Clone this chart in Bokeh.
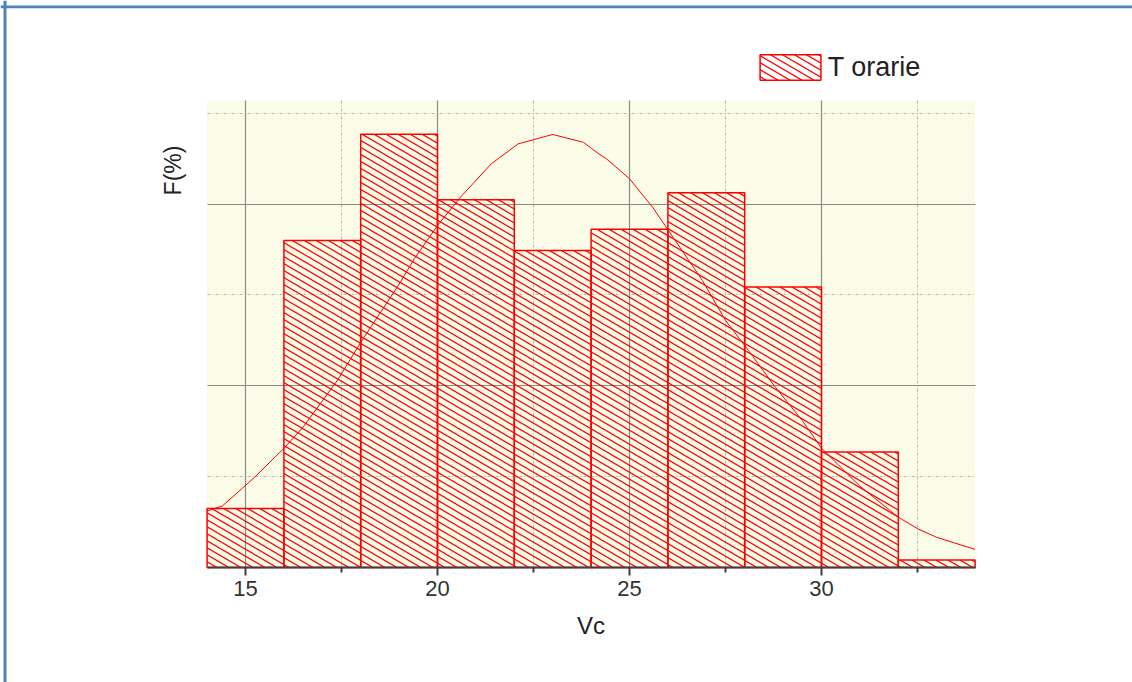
import base64
from math import pi
from bokeh.plotting import figure
from bokeh.models import (Range1d, FixedTicker, Legend, LegendItem, Label, Span,
                          BoxAnnotation, ColumnDataSource, ImageURLTexture)
from bokeh.core.properties import value
from bokeh.embed import file_html
from bokeh.resources import INLINE

# ---- data ----
bin_left = [14, 16, 18, 20, 22, 24, 26, 28, 30, 32]
bin_right = [16, 18, 20, 22, 24, 26, 28, 30, 32, 34]
freq_pct = [2.25, 12.47, 16.52, 14.02, 12.09, 12.90, 14.29, 10.69, 4.40, 0.29]

curve_x = [14.0, 14.4, 15.2, 16.0, 16.5, 17.4, 18.0, 19.0, 19.4, 20.0, 20.6, 21.4,
           22.1, 23.0, 23.8, 24.2, 24.4, 25.0, 25.6, 26.0, 26.9, 27.5, 28.1, 28.8,
           29.5, 30.0, 31.0, 32.0, 32.5, 33.0, 34.0]
curve_y = [2.15, 2.35, 3.39, 4.54, 5.35, 7.15, 8.58, 10.80, 11.78, 13.04, 14.12, 15.39,
           16.15, 16.51, 16.21, 15.77, 15.58, 14.82, 13.74, 12.88, 10.94, 9.42, 8.27, 6.87,
           5.60, 4.55, 3.10, 1.92, 1.48, 1.15, 0.69]

x_major = [15, 20, 25, 30]
x_minor = [17.5, 22.5, 27.5, 32.5]
y_major = [6.92, 13.85]
y_minor = [3.46, 10.39, 17.31]

series_name = "T orarie"
x_label = "Vc"
y_label = "F(%)"

# plotting area (axes box) limits
X_MIN, X_MAX = 14, 34
Y_MIN, Y_MAX = 0, 17.8

FONT = "Liberation Sans"
RED = "#ff0000"
BLUE = "#4f81bd"

W, H = 1132, 682
PX_X = 38.4       # pixels per x unit
PX_Y = 26.23      # pixels per y unit
LEFT_PX = 206.6   # canvas x of X_MIN
BASE_PX = 567     # canvas y of Y_MIN

x_start = X_MIN - LEFT_PX / PX_X
x_end = X_MIN + (W - LEFT_PX) / PX_X
y_start = -(H - BASE_PX) / PX_Y
y_end = BASE_PX / PX_Y

p = figure(width=W, height=H, x_range=Range1d(x_start, x_end),
           y_range=Range1d(y_start, y_end),
           output_backend="svg", toolbar_location=None,
           min_border_left=0, min_border_right=0, min_border_top=0, min_border_bottom=0,
           background_fill_color="white", border_fill_color="white", outline_line_color=None)

p.yaxis.visible = False

# yellow plot area
p.add_layout(BoxAnnotation(left=X_MIN, right=X_MAX, bottom=Y_MIN, top=Y_MAX,
                           fill_color="#fafce8", fill_alpha=1, line_alpha=0, level="image"))

xt = FixedTicker(ticks=x_major, minor_ticks=x_minor)
p.xaxis.ticker = xt
p.xgrid.ticker = xt
p.ygrid.ticker = FixedTicker(ticks=y_major, minor_ticks=y_minor)
p.xgrid.bounds = (X_MIN, X_MAX)
p.xgrid.cross_bounds = (Y_MIN, Y_MAX)
p.ygrid.bounds = (Y_MIN, Y_MAX)
p.ygrid.cross_bounds = (X_MIN, X_MAX)

for g in (p.xgrid, p.ygrid):
    g.grid_line_color = "#8a8a8a"
    g.grid_line_width = 1.2
    g.minor_grid_line_color = "#b5b5b5"
    g.minor_grid_line_dash = "3 2 1 2"
    g.minor_grid_line_width = 1

ax = p.xaxis[0]
ax.fixed_location = Y_MIN
ax.bounds = (X_MIN, X_MAX)
ax.axis_line_color = "#404040"
ax.axis_line_width = 2
ax.major_tick_line_color = "#404040"
ax.major_tick_line_width = 2
ax.major_tick_out = 8
ax.major_tick_in = 0
ax.minor_tick_line_color = "#404040"
ax.minor_tick_line_width = 2
ax.minor_tick_out = 5
ax.minor_tick_in = 0
ax.major_label_text_font = FONT
ax.major_label_text_font_size = "22px"
ax.major_label_text_color = "#333333"
ax.major_label_standoff = 5

# shallow "\" hatch tile (slope ~0.58)
tile_svg = ("<svg xmlns='http://www.w3.org/2000/svg' width='12' height='7'>"
            "<path d='M-12,-7 L24,14 M-12,0 L12,14 M0,-7 L24,7' stroke='#ff0000' "
            "stroke-width='1.2' fill='none'/></svg>")
tile_url = "data:image/svg+xml;base64," + base64.b64encode(tile_svg.encode()).decode()
hatch_tex = ImageURLTexture(url=tile_url)

src = ColumnDataSource(dict(left=bin_left, right=bin_right, top=freq_pct,
                            bottom=[0] * len(freq_pct)))
bars = p.quad(left="left", right="right", top="top", bottom="bottom", source=src,
              fill_alpha=0, line_color=RED, line_width=1.5,
              hatch_pattern=value("shallow"), hatch_extra={"shallow": hatch_tex},
              hatch_color=RED, hatch_weight=1)

p.line(curve_x, curve_y, line_color=RED, line_width=1)

legend = Legend(items=[LegendItem(label=series_name, renderers=[bars])],
                location=(751.7, 598.8), glyph_width=76, glyph_height=32, label_height=32,
                label_text_font=FONT, label_text_font_size="27px", label_text_color="#222222",
                label_standoff=0, padding=0, margin=0, spacing=0,
                border_line_alpha=0, background_fill_alpha=0)
p.add_layout(legend)

p.add_layout(Label(x=172, y=H - 170, x_units="screen", y_units="screen", text=y_label,
                   angle=pi / 2, text_align="center", text_baseline="middle",
                   text_font=FONT, text_font_size="23px", text_color="#222222"))

p.add_layout(Label(x=590.6, y=H - 625, x_units="screen", y_units="screen", text=x_label,
                   text_align="center", text_baseline="middle",
                   text_font=FONT, text_font_size="24px", text_color="#222222"))

# page frame (blue rule at top and left)
p.add_layout(Span(location=y_end - 6.3 / PX_Y, dimension="width", line_color=BLUE,
                  line_width=2.7))
p.add_layout(Span(location=x_start + 4.5 / PX_X, dimension="height", line_color=BLUE,
                  line_width=3))

open("out.html", "w").write(file_html(p, INLINE))
